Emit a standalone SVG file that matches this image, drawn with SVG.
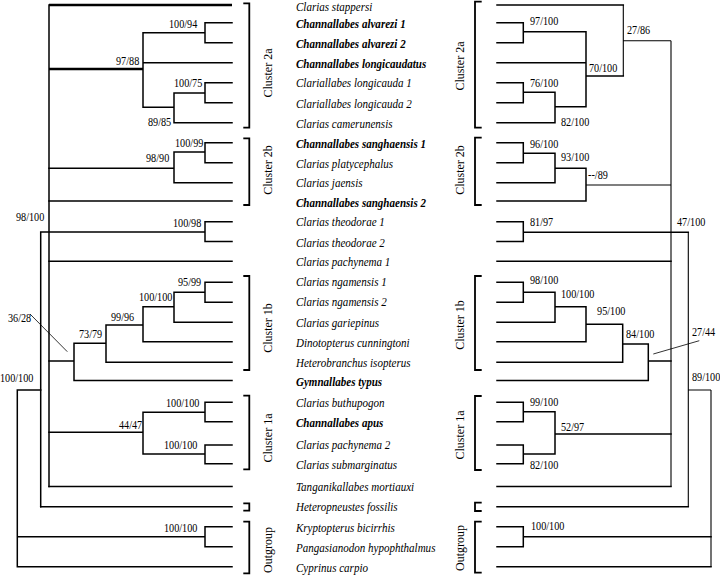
<svg xmlns="http://www.w3.org/2000/svg" width="720" height="576" viewBox="0 0 720 576">
<style>
.bg{fill:#fff}
.ln{fill:none;stroke:#000;stroke-width:1.5;stroke-linecap:square}
.thk{fill:none;stroke:#000;stroke-width:2.4}
.thn{fill:none;stroke:#000;stroke-width:1.1}
.ld{fill:none;stroke:#000;stroke-width:0.8}
.br{fill:none;stroke:#000;stroke-width:1.8}
text{font-family:"Liberation Serif","Times New Roman",serif;fill:#000}
.tx{font-size:13px;font-style:italic}
.b{font-weight:bold}
.n{font-size:12px}
.c{font-size:12px;text-anchor:middle}
</style>
<rect class="bg" x="0" y="0" width="720" height="576"/>
<g id="connectors">
<!-- left tree -->
<path class="ln" d="M49 5V486.5 M143 32.7V107.3 M143 32.7H205 M205 22.7V42.7 M205 22.7H232 M205 42.7H232 M143 62.7H232 M143 107.3H174 M174 93V122.7 M174 93H205 M205 82.7V102.7 M205 82.7H232 M205 102.7H232 M174 122.7H232"/>
<path class="thk" d="M49 5H232 M49 69H143"/>
<path class="ln" d="M49 168.3H174 M174 152V182.7 M174 152H205 M205 142.7V162.7 M205 142.7H232 M205 162.7H232 M174 182.7H232 M49 201H232"/>
<path class="ln" d="M40.7 232H205 M205 221.7V241.5 M205 221.7H232 M205 241.5H232 M40.7 232V506.7 M49 261.3H232"/>
<path class="ln" d="M49 361H74 M74 343.3V380.5 M74 343.3H106 M106 325V362.3 M106 325H143 M143 306.7V341.7 M143 306.7H174 M174 292.3V322.3 M174 292.3H205 M205 282.3V302.3 M205 282.3H232 M205 302.3H232 M174 322.3H232 M143 341.7H232 M106 362.3H232 M74 380.5H232"/>
<path class="ln" d="M49 432.3H143 M143 412.3V454 M143 412.3H205 M205 402.3V421.7 M205 402.3H232 M205 421.7H232 M143 454H205 M205 445V463.7 M205 445H232 M205 463.7H232 M49 486.5H232 M40.7 506.7H232"/>
<path class="ln" d="M17.3 390H40.7 M17.3 390V566.7 M17.3 536.7H205 M205 526.7V546.7 M205 526.7H232 M205 546.7H232 M17.3 566.7H232"/>
<path class="ld" d="M30 314L67.3 351.7"/>
<!-- right tree -->
<path class="ln" d="M497 5H623.3 M586 76H623.3 M586 31.7V106.7 M523.3 31.7H586 M523.3 22.7V42.7 M497 22.7H523.3 M497 42.7H523.3 M497 62.7H586 M523.3 82.7V102.7 M497 82.7H523.3 M497 102.7H523.3 M523.3 92.3H555 M555 92.3V122.7 M497 122.7H555 M555 106.7H586"/>
<path class="thn" d="M623.3 5V76 M623.3 40.7H671 M671 40.7V486.5"/>
<path class="ln" d="M523.3 142.7V162.7 M497 142.7H523.3 M497 162.7H523.3 M523.3 153.3H555 M555 153.3V182.7 M497 182.7H555 M555 168.3H586 M586 168.3V201 M497 201H586"/>
<path class="thn" d="M586 185H671"/>
<path class="ln" d="M523.3 221.7V241.5 M497 221.7H523.3 M497 241.5H523.3 M523.3 232.3H688.3 M497 261.3H671"/>
<path class="thn" d="M688.3 232.3V506.7 M688.3 390H711 M711 390V566.7"/>
<path class="ln" d="M523.3 282.3V302.3 M497 282.3H523.3 M497 302.3H523.3 M523.3 292.3H555 M555 292.3V322.3 M497 322.3H555 M555 306.7H586 M586 306.7V341.7 M497 341.7H586 M586 324.3H622.7 M622.7 324.3V362.3 M497 362.3H622.7 M622.7 344H648.3 M648.3 344V380.5 M497 380.5H648.3 M648.3 361H671"/>
<path class="ld" d="M653.3 354L699.3 340.7"/>
<path class="ln" d="M523.3 402.3V421.7 M497 402.3H523.3 M497 421.7H523.3 M523.3 411.7H555 M555 411.7V454 M523.3 454H555 M523.3 445V463.7 M497 445H523.3 M497 463.7H523.3 M555 434H671 M497 486.5H671 M497 506.7H688.3"/>
<path class="ln" d="M523.3 526.7V546.7 M497 526.7H523.3 M497 546.7H523.3 M523.3 536.7H711 M497 566.7H711"/>
</g>
<g id="brackets">
<path class="br" d="M243.3 3.3H249.3V127.7H243.3 M243.3 138.3H249.3V205H243.3 M243.3 276H249.3V370H243.3 M243.3 395.7H249.3V469.3H243.3 M243.3 503.3H249.3V510.7H243.3 M243.3 521.7H249.3V573.3H243.3"/>
<path class="br" d="M481.7 1.7H475V127.7H481.7 M481.7 137.7H475V205H481.7 M481.7 276H475V370H481.7 M481.7 396H475V470H481.7 M481.7 502.7H475V511H481.7 M481.7 521.7H475V572.7H481.7"/>
</g>
<g id="cluster-labels">
<g id="cl-2a-left"><text class="c" transform="translate(271.5 73) rotate(-90)">Cluster 2a</text></g>
<g id="cl-2b-left"><text class="c" transform="translate(271.5 170) rotate(-90)">Cluster 2b</text></g>
<g id="cl-1b-left"><text class="c" transform="translate(271.5 328) rotate(-90)">Cluster 1b</text></g>
<g id="cl-1a-left"><text class="c" transform="translate(271.5 438) rotate(-90)">Cluster 1a</text></g>
<g id="cl-og-left"><text class="c" transform="translate(271.5 550) rotate(-90)">Outgroup</text></g>
<g id="cl-2a-right"><text class="c" transform="translate(464 66) rotate(-90)">Cluster 2a</text></g>
<g id="cl-2b-right"><text class="c" transform="translate(464 170) rotate(-90)">Cluster 2b</text></g>
<g id="cl-1b-right"><text class="c" transform="translate(464 325) rotate(-90)">Cluster 1b</text></g>
<g id="cl-1a-right"><text class="c" transform="translate(464 435) rotate(-90)">Cluster 1a</text></g>
<g id="cl-og-right"><text class="c" transform="translate(464 548) rotate(-90)">Outgroup</text></g>
</g>
<g id="labels" transform="scale(0.85 1)">
<g id="taxa">
<g id="t00"><text class="tx" x="348.2" y="10.5">Clarias stappersi</text></g>
<g id="t01"><text class="tx b" x="348.2" y="28.5">Channallabes alvarezi 1</text></g>
<g id="t02"><text class="tx b" x="348.2" y="48.5">Channallabes alvarezi 2</text></g>
<g id="t03"><text class="tx b" x="348.2" y="68.5">Channallabes longicaudatus</text></g>
<g id="t04"><text class="tx" x="348.2" y="87.5">Clariallabes longicauda 1</text></g>
<g id="t05"><text class="tx" x="348.2" y="108.5">Clariallabes longicauda 2</text></g>
<g id="t06"><text class="tx" x="348.2" y="128.5">Clarias camerunensis</text></g>
<g id="t07"><text class="tx b" x="348.2" y="148.5">Channallabes sanghaensis 1</text></g>
<g id="t08"><text class="tx" x="348.2" y="168.5">Clarias platycephalus</text></g>
<g id="t09"><text class="tx" x="348.2" y="187.5">Clarias jaensis</text></g>
<g id="t10"><text class="tx b" x="348.2" y="207.5">Channallabes sanghaensis 2</text></g>
<g id="t11"><text class="tx" x="348.2" y="226.5">Clarias theodorae 1</text></g>
<g id="t12"><text class="tx" x="348.2" y="247.5">Clarias theodorae 2</text></g>
<g id="t13"><text class="tx" x="348.2" y="266.5">Clarias pachynema 1</text></g>
<g id="t14"><text class="tx" x="348.2" y="286.5">Clarias ngamensis 1</text></g>
<g id="t15"><text class="tx" x="348.2" y="306.5">Clarias ngamensis 2</text></g>
<g id="t16"><text class="tx" x="348.2" y="327.5">Clarias gariepinus</text></g>
<g id="t17"><text class="tx" x="348.2" y="347.5">Dinotopterus cunningtoni</text></g>
<g id="t18"><text class="tx" x="348.2" y="367.5">Heterobranchus isopterus</text></g>
<g id="t19"><text class="tx b" x="348.2" y="386.5">Gymnallabes typus</text></g>
<g id="t20"><text class="tx" x="348.2" y="407.5">Clarias buthupogon</text></g>
<g id="t21"><text class="tx b" x="348.2" y="427.5">Channallabes apus</text></g>
<g id="t22"><text class="tx" x="348.2" y="449.5">Clarias pachynema 2</text></g>
<g id="t23"><text class="tx" x="348.2" y="469.5">Clarias submarginatus</text></g>
<g id="t24"><text class="tx" x="348.2" y="491.5">Tanganikallabes mortiauxi</text></g>
<g id="t25"><text class="tx" x="348.2" y="511.5">Heteropneustes fossilis</text></g>
<g id="t26"><text class="tx" x="348.2" y="532.5">Kryptopterus bicirrhis</text></g>
<g id="t27"><text class="tx" x="348.2" y="552.5">Pangasianodon hypophthalmus</text></g>
<g id="t28"><text class="tx" x="348.2" y="572.5">Cyprinus carpio</text></g>
</g>
<g id="support-left">
<g id="sl01"><text class="n" x="198.8" y="28">100/94</text></g>
<g id="sl02"><text class="n" x="136.5" y="65">97/88</text></g>
<g id="sl03"><text class="n" x="204.7" y="87">100/75</text></g>
<g id="sl04"><text class="n" x="174.1" y="126">89/85</text></g>
<g id="sl05"><text class="n" x="205.9" y="146.7">100/99</text></g>
<g id="sl06"><text class="n" x="171.8" y="161.7">98/90</text></g>
<g id="sl07"><text class="n" x="18.8" y="220.7">98/100</text></g>
<g id="sl08"><text class="n" x="203.5" y="227">100/98</text></g>
<g id="sl09"><text class="n" x="209.4" y="286.3">95/99</text></g>
<g id="sl10"><text class="n" x="163.5" y="301">100/100</text></g>
<g id="sl11"><text class="n" x="130.6" y="320.7">99/96</text></g>
<g id="sl12"><text class="n" x="92.9" y="338.3">73/79</text></g>
<g id="sl13"><text class="n" x="9.4" y="322.3">36/28</text></g>
<g id="sl14"><text class="n" x="0" y="382.3">100/100</text></g>
<g id="sl15"><text class="n" x="195.3" y="406.7">100/100</text></g>
<g id="sl16"><text class="n" x="140" y="429">44/47</text></g>
<g id="sl17"><text class="n" x="192.9" y="449">100/100</text></g>
<g id="sl18"><text class="n" x="192.9" y="532.3">100/100</text></g>
</g>
<g id="support-right">
<g id="sr01"><text class="n" x="623.5" y="24.7">97/100</text></g>
<g id="sr02"><text class="n" x="737.6" y="34">27/86</text></g>
<g id="sr03"><text class="n" x="692.9" y="72.3">70/100</text></g>
<g id="sr04"><text class="n" x="623.5" y="86.7">76/100</text></g>
<g id="sr05"><text class="n" x="660" y="125.7">82/100</text></g>
<g id="sr06"><text class="n" x="623.5" y="148.3">96/100</text></g>
<g id="sr07"><text class="n" x="660" y="160.7">93/100</text></g>
<g id="sr08"><text class="n" x="691.8" y="179">--/89</text></g>
<g id="sr09"><text class="n" x="623.5" y="226.3">81/97</text></g>
<g id="sr10"><text class="n" x="796.5" y="226.3">47/100</text></g>
<g id="sr11"><text class="n" x="623.5" y="284">98/100</text></g>
<g id="sr12"><text class="n" x="660" y="298.3">100/100</text></g>
<g id="sr13"><text class="n" x="702.4" y="315">95/100</text></g>
<g id="sr14"><text class="n" x="736.5" y="338">84/100</text></g>
<g id="sr15"><text class="n" x="814.1" y="335.7">27/44</text></g>
<g id="sr16"><text class="n" x="814.1" y="381.3">89/100</text></g>
<g id="sr17"><text class="n" x="623.5" y="405.7">99/100</text></g>
<g id="sr18"><text class="n" x="660" y="431.3">52/97</text></g>
<g id="sr19"><text class="n" x="623.5" y="469">82/100</text></g>
<g id="sr20"><text class="n" x="624.7" y="529.7">100/100</text></g>
</g>
</g>
</svg>
